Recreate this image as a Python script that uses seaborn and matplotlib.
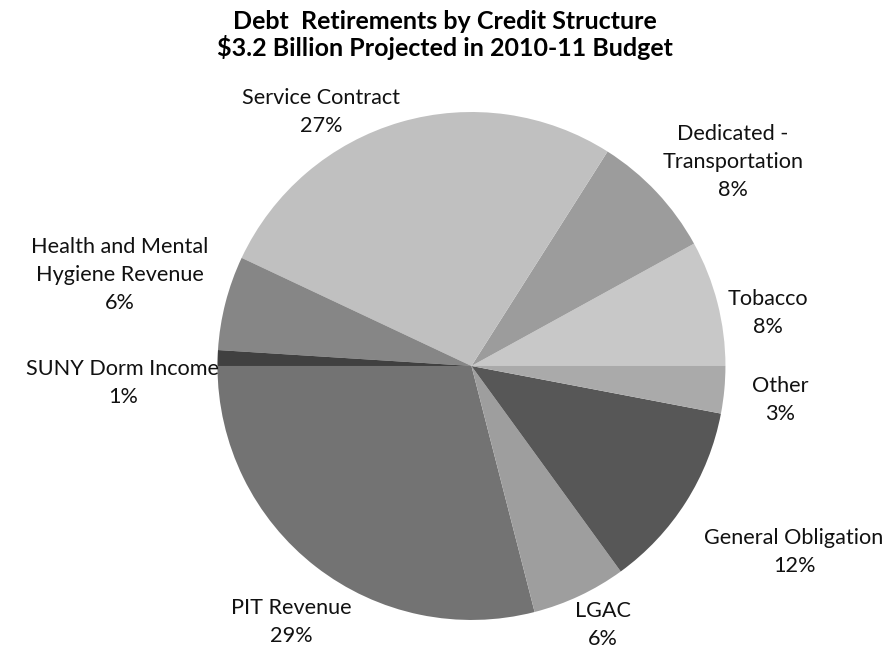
import matplotlib
matplotlib.use("Agg")
import matplotlib.pyplot as plt
import seaborn as sns
import numpy as np

# Debt retirements by credit structure (percent of $3.2 billion)
categories = ["Tobacco", "Dedicated -\nTransportation", "Service Contract",
              "Health and Mental\nHygiene Revenue", "SUNY Dorm Income",
              "PIT Revenue", "LGAC", "General Obligation", "Other"]
shares = [8, 8, 27, 6, 1, 29, 6, 12, 3]
slice_colors = ["#c8c8c8", "#9c9c9c", "#c0c0c0", "#868686", "#404040",
                "#737373", "#9e9e9e", "#575757", "#aaaaaa"]

# label anchor points, in units of the pie radius
label_xy = [(1.167, 0.209), (1.030, 0.803), (-0.593, 1.000),
            (-1.384, 0.358), (-1.372, -0.067), (-0.711, -1.008),
            (0.518, -1.020), (1.270, -0.732), (1.215, -0.134)]

sns.set_theme(style="white")
plt.rcParams["font.family"] = ["Lato", "DejaVu Sans"]

fig = plt.figure(figsize=(8.85, 6.54), dpi=100)
ax = fig.add_axes([0, 0, 1, 1])

palette = sns.color_palette(slice_colors)
wedges, _ = ax.pie(shares, colors=palette, startangle=0, counterclock=True,
                   radius=1.0, wedgeprops=dict(linewidth=0))

for name, val, (lx, ly) in zip(categories, shares, label_xy):
    ax.text(lx, ly, f"{name}\n{val}%", ha="center", va="center",
            fontsize=15.6, color="#111111", linespacing=1.52)

ax.set_xlim(-1.856, 1.628)
ax.set_ylim(-1.134, 1.441)
ax.set_aspect("equal", adjustable="box")
ax.axis("off")

fig.text(0.503, 0.947, "Debt  Retirements by Credit Structure\n$3.2 Billion Projected in 2010-11 Budget",
         ha="center", va="center", fontsize=18, fontweight="bold",
         color="black", linespacing=1.1)

fig.savefig("out.png", dpi=100, facecolor="white")
